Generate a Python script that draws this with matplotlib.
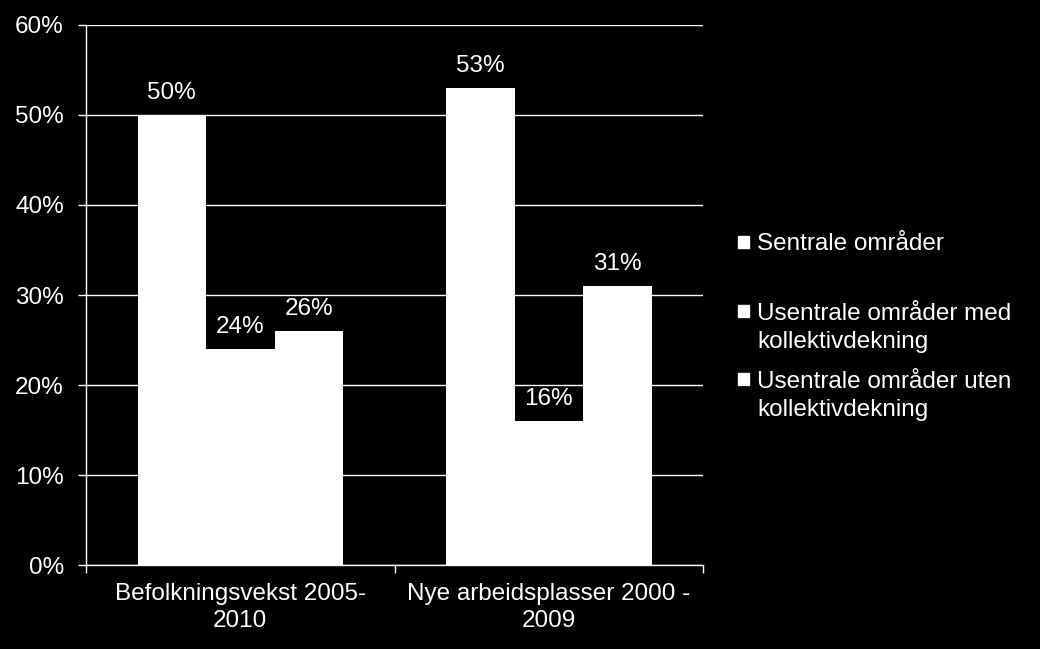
import matplotlib.pyplot as plt
from matplotlib.patches import Rectangle
from matplotlib.ticker import FuncFormatter, MultipleLocator
import numpy as np

plt.rcParams['font.family'] = ['Liberation Sans', 'DejaVu Sans']

# data
categories = ['Befolkningsvekst 2005-\n2010', 'Nye arbeidsplasser 2000 -\n2009']
series_names = ['Sentrale områder',
                'Usentrale områder med\nkollektivdekning',
                'Usentrale områder uten\nkollektivdekning']
sentrale = [50, 53]
usentrale_med = [24, 16]
usentrale_uten = [26, 31]
values = [sentrale, usentrale_med, usentrale_uten]

FS = 17.5
W, H = 1040, 649
fig = plt.figure(figsize=(W / 100, H / 100), dpi=100, facecolor='black')
ax = fig.add_axes([0.0827, 0.1294, 0.5933, 0.8321], facecolor='black')

x = np.arange(len(categories)) + 0.5
bw = 0.222
for i, vals in enumerate(values):
    bars = ax.bar(x + (i - 1) * bw, vals, width=bw, color='white',
                  edgecolor='none', zorder=3)
    ax.bar_label(bars, labels=[f'{v}%' for v in vals], padding=8,
                 color='white', fontsize=FS)

ax.set_xlim(0, len(categories))
ax.set_ylim(0, 60)
ax.yaxis.set_major_locator(MultipleLocator(10))
ax.yaxis.set_major_formatter(FuncFormatter(lambda v, p: f'{v:.0f}%'))
ax.grid(axis='y', color='white', linewidth=1, zorder=0)
ax.set_axisbelow(True)

ax.set_xticks(x)
ax.set_xticklabels(categories, fontsize=FS, color='white', linespacing=1.3)
ax.set_xticks(np.arange(len(categories) + 1), minor=True)
ax.tick_params(axis='x', which='major', length=0, pad=13)
ax.tick_params(axis='x', which='minor', length=6, color='white', width=1)
ax.tick_params(axis='y', length=6, color='white', width=1, labelcolor='white',
               labelsize=FS, pad=10)

for s in ['top', 'right']:
    ax.spines[s].set_visible(False)
for s in ['left', 'bottom']:
    ax.spines[s].set_color('white')
    ax.spines[s].set_linewidth(1)

# legend, Excel style: square next to the first text line
first_baseline_px = [250, 319, 387]
line_px = 29
for name, yb in zip(series_names, first_baseline_px):
    nlines = name.count('\n') + 1
    y_first = 1 - yb / H
    y_last = 1 - (yb + (nlines - 1) * line_px) / H
    fig.patches.append(Rectangle((0.7096, y_first + 0.003), 0.011, 0.018,
                                 transform=fig.transFigure, color='white'))
    fig.text(0.728, y_last, name, color='white', fontsize=FS, va='baseline',
             ha='left', linespacing=1.34, transform=fig.transFigure)

fig.savefig('out.png', dpi=100, facecolor='black')
